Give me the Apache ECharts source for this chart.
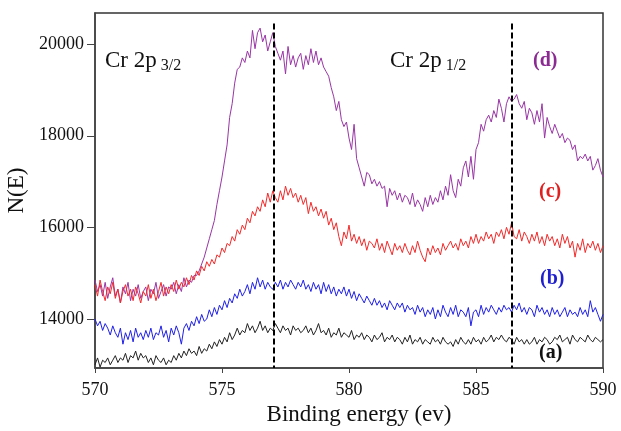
<!DOCTYPE html>
<html>
<head>
<meta charset="utf-8">
<script src="https://cdn.jsdelivr.net/npm/echarts@6/dist/echarts.min.js"></script>
<style>
  html, body { margin: 0; padding: 0; background: #fff; }
  #chart { width: 621px; height: 431px; }
</style>
</head>
<body>
<div id="chart"></div>
<script>
// binding energy grid, 570 -> 590 eV every 0.1 eV
const energyStart = 570;
const energyStep = 0.1;

// (a) black
const spectrumA = [
  13000, 13150, 12950, 13100, 13050, 13150, 13000, 13100, 13200, 13050,
  13150, 13100, 13250, 13050, 13200, 13150, 13300, 13100, 13250, 13150,
  13200, 13050, 13150, 13000, 13200, 13100, 13050, 13150, 13000, 13100,
  13050, 13200, 13100, 13250, 13150, 13300, 13200, 13350, 13250, 13300,
  13200, 13400, 13250, 13350, 13300, 13450, 13350, 13500, 13400, 13550,
  13450, 13600, 13500, 13700, 13550, 13650, 13800, 13650, 13750, 13700,
  13900, 13750, 13850, 13700, 13800, 13950, 13750, 13850, 13700, 13800,
  13750, 13900, 13800, 13700, 13850, 13750, 13800, 13650, 13850, 13750,
  13800, 13700, 13750, 13850, 13700, 13800, 13650, 13750, 13900, 13700,
  13750, 13650, 13800, 13600, 13700, 13650, 13800, 13600, 13700, 13650,
  13600, 13750, 13550, 13650, 13600, 13700, 13550, 13650, 13600, 13500,
  13650, 13550, 13600, 13700, 13500, 13600, 13550, 13650, 13500, 13600,
  13550, 13450, 13600, 13500, 13650, 13450, 13550, 13500, 13600, 13450,
  13550, 13500, 13450, 13600, 13500, 13550, 13450, 13600, 13500, 13450,
  13500, 13400, 13550, 13450, 13600, 13500, 13450, 13550, 13450, 13600,
  13500, 13550, 13450, 13600, 13500, 13550, 13650, 13500, 13600, 13550,
  13650, 13550, 13500, 13600, 13550, 13450, 13600, 13500, 13550, 13450,
  13550, 13450, 13500, 13600, 13450, 13550, 13500, 13600, 13550, 13450,
  13500, 13600, 13550, 13650, 13500, 13550, 13600, 13450, 13650, 13550,
  13500, 13600, 13550, 13500, 13650, 13550, 13500, 13600, 13550, 13500,
  13550
];

// (b) blue
const spectrumB = [
  14000, 13850, 13950, 13750, 13900, 13800, 13650, 13850, 13700, 13600,
  13800, 13450, 13700, 13550, 13750, 13500, 13800, 13600, 13700, 13550,
  13750, 13600, 13800, 13550, 13700, 13650, 13850, 13600, 13750, 13500,
  13800, 13650, 13850, 13700, 13450, 13800, 13900, 13750, 13950, 13850,
  14050, 13900, 14100, 13950, 14000, 14200, 14050, 14250, 14100, 14300,
  14200, 14400, 14250, 14450, 14350, 14550, 14450, 14650, 14500, 14600,
  14750, 14550, 14800, 14650, 14900, 14700, 14850, 14650, 14800, 14700,
  14650, 14800, 14700, 14850, 14650, 14800, 14700, 14850, 14750, 14650,
  14800, 14700, 14850, 14650, 14750, 14600, 14800, 14650, 14750, 14550,
  14800, 14600, 14750, 14550, 14700, 14500, 14650, 14550, 14700, 14500,
  14650, 14450, 14600, 14400, 14550, 14450, 14350, 14500, 14400, 14300,
  14450, 14300, 14400, 14250, 14350, 14200, 14400, 14300, 14200, 14350,
  14250, 14350, 14150, 14300, 14200, 14250, 14100, 14300, 14150, 14250,
  14050, 14200, 14100, 14250, 14000, 14200, 14050, 14300, 14150, 14050,
  14250, 14100, 14300, 14050, 14200, 14150, 14050, 14250, 13850, 14150,
  14200, 14050, 14300, 14100, 14250, 14150, 14300, 14200, 14100, 14250,
  14150, 14300, 14200, 14250, 14150, 14300, 14200, 14350, 14150, 14250,
  14100, 14250, 14200, 14050, 14300, 14150, 14250, 14100, 14200, 14050,
  14250, 14100, 14200, 14050, 14150, 14250, 14050, 14200, 14100, 14150,
  14050, 14250, 14100, 14200, 14050, 14400, 14150, 14250, 14100, 13950,
  14100
];

// (c) red
const spectrumC = [
  14750, 14500, 14850, 14600, 14400, 14700, 14550, 14800, 14450, 14650,
  14350, 14600, 14750, 14500, 14650, 14400, 14700, 14550, 14350, 14600,
  14500, 14750, 14450, 14650, 14400, 14600, 14800, 14500, 14700, 14550,
  14750, 14600, 14850, 14650, 14800, 14700, 14900, 14750, 14950, 14850,
  15050, 14950, 15150, 15050, 15250, 15150, 15300, 15200, 15400, 15350,
  15550, 15450, 15650, 15600, 15800, 15700, 15950, 15850, 16050, 15950,
  16200, 16100, 16350, 16250, 16450, 16350, 16600, 16450, 16750, 16550,
  16800, 16650, 16550, 16800, 16600, 16900, 16700, 16850, 16650, 16750,
  16550, 16700, 16500, 16650, 16300, 16550, 16350, 16450, 16250, 16400,
  16200, 16350, 16050, 16200, 15950, 16100, 15800, 15600, 15900, 15750,
  16050, 15700, 15850, 15650, 15800, 15600, 15750, 15500, 15700, 15650,
  15550, 15750, 15500, 15650, 15450, 15700, 15550, 15400, 15650, 15500,
  15600, 15450, 15650, 15500, 15400, 15600, 15450, 15700, 15500, 15350,
  15250, 15550, 15400, 15600, 15450, 15550, 15400, 15650, 15500, 15600,
  15700, 15550, 15650, 15500, 15750, 15600, 15700, 15550, 15800, 15650,
  15850, 15650, 15800, 15700, 15900, 15750, 15850, 15650, 15900, 15800,
  15950, 15750, 16000, 15850, 16100, 15800, 15750, 15950, 15700, 15900,
  15800, 15650, 15850, 15700, 15900, 15650, 15800, 15600, 15850, 15700,
  15800, 15600, 15750, 15550, 15850, 15650, 15800, 15550, 15700, 15350,
  15650, 15500, 15750, 15450, 15650, 15550, 15700, 15500, 15650, 15450,
  15600
];

// (d) purple
const spectrumD = [
  14850, 14600, 14750, 14500, 14800, 14450, 14700, 14900, 14500, 14650,
  14350, 14700, 14550, 14800, 14400, 14650, 14500, 14750, 14450, 14600,
  14700, 14400, 14650, 14550, 14800, 14450, 14600, 14750, 14500, 14700,
  14650, 14800, 14550, 14750, 14600, 14900, 14700, 14850, 14800, 14950,
  14950, 15050, 15200, 15350, 15550, 15750, 15950, 16150, 16500, 16800,
  17100, 17450, 17800, 18400, 18700, 19150, 19450, 19500, 19700, 19600,
  19850, 19700, 20300, 19900, 20250, 20350, 20050, 20200, 19850, 20050,
  20250, 19950, 19800, 19650, 19850, 19350, 19950, 19550, 19750, 19500,
  19700, 19800, 19450, 19750, 19550, 19900, 19600, 19850, 19550, 19700,
  19500, 19400, 19300, 19050, 18850, 18550, 18750, 18350, 18200, 18300,
  17950, 17700, 18250, 17500, 17300, 17100, 16900, 17200, 17150, 16950,
  17050, 16900, 17000, 16850, 16900, 16450, 16850, 16700, 16800, 16600,
  16750, 16550, 16700, 16650, 16500, 16750, 16450, 16600, 16500, 16350,
  16650, 16450, 16700, 16500, 16650, 16550, 16800, 16600, 16900, 16700,
  17150, 16800, 16650, 17050, 16900, 17300, 17450, 17100, 17550, 17050,
  17700, 17850, 18250, 18100, 18350, 18450, 18300, 18550, 18400, 18800,
  18600, 18300, 18700, 18850, 18750, 18800, 18900, 18700, 18600, 18750,
  18350, 18600, 18500, 18250, 18550, 18300, 18700, 17950, 18400, 18200,
  18050, 18250, 18100, 17950, 18050, 17850, 17950, 17900, 17700, 17800,
  17450, 17550, 17500, 17600, 17450, 17550, 17250, 17350, 17500, 17250,
  17100
];

const yTicks = [14000, 16000, 18000, 20000];
const peakLines = [577.05, 586.4];

function toPairs(values) {
  return values.map((v, i) => [+(energyStart + i * energyStep).toFixed(1), v]);
}

const serif = "'Liberation Serif', 'DejaVu Serif', serif";
const chart = echarts.init(document.getElementById('chart'));

chart.setOption({
  animation: false,
  backgroundColor: '#fff',
  grid: {
    left: 95, right: 18, top: 13, bottom: 63,
    outerBoundsMode: 'none', containLabel: false,
    show: true, borderColor: '#333', borderWidth: 1.5
  },
  xAxis: {
    type: 'value', min: 570, max: 590, interval: 5,
    name: 'Binding energy (ev)', nameLocation: 'middle', nameGap: 34,
    nameTextStyle: { fontFamily: serif, fontSize: 23, color: '#111', padding: [0, 0, 0, 20] },
    axisLine: { lineStyle: { color: '#444', width: 1.5 } },
    axisTick: { inside: false, length: 5, lineStyle: { color: '#444' } },
    axisLabel: { fontFamily: serif, fontSize: 18, color: '#111', margin: 13 },
    splitLine: { show: false }
  },
  yAxis: {
    type: 'value', min: 12930, max: 20680,
    name: 'N(E)', nameLocation: 'middle', nameGap: 62, nameRotate: 90,
    nameTextStyle: { fontFamily: serif, fontSize: 23, color: '#111' },
    axisLine: { show: true, lineStyle: { color: '#444', width: 1.5 } },
    axisTick: { show: true, length: 8, customValues: yTicks, lineStyle: { color: '#444' } },
    axisLabel: { fontFamily: serif, fontSize: 18, color: '#111', margin: 11,
      customValues: yTicks, formatter: v => String(v) },
    splitLine: { show: false }
  },
  series: [
    { name: 'd', type: 'line', data: toPairs(spectrumD), showSymbol: false,
      lineStyle: { color: '#9a35a6', width: 1 } },
    { name: 'c', type: 'line', data: toPairs(spectrumC), showSymbol: false,
      lineStyle: { color: '#f22a2a', width: 1 } },
    { name: 'b', type: 'line', data: toPairs(spectrumB), showSymbol: false,
      lineStyle: { color: '#1f1fe8', width: 1 } },
    { name: 'a', type: 'line', data: toPairs(spectrumA), showSymbol: false,
      lineStyle: { color: '#222', width: 1 },
      markLine: {
        silent: true, symbol: ['none', 'none'], label: { show: false },
        lineStyle: { color: '#000', type: [6, 3], width: 2 },
        data: peakLines.map(x => [{ coord: [x, 20450] }, { coord: [x, 12930] }])
      } }
  ],
  graphic: [
    { type: 'text', left: 105, top: 49, style: {
      text: '{m|Cr 2p}{s| 3/2}', rich: {
        m: { fontFamily: serif, fontSize: 23, fill: '#111' },
        s: { fontFamily: serif, fontSize: 16, fill: '#111', padding: [10, 0, 0, 0] }
      } } },
    { type: 'text', left: 390, top: 49, style: {
      text: '{m|Cr 2p}{s| 1/2}', rich: {
        m: { fontFamily: serif, fontSize: 23, fill: '#111' },
        s: { fontFamily: serif, fontSize: 16, fill: '#111', padding: [10, 0, 0, 0] }
      } } },
    { type: 'text', left: 533, top: 51, style: { text: '(d)', font: 'bold 20px ' + serif, fill: '#8a2a92' } },
    { type: 'text', left: 539, top: 182, style: { text: '(c)', font: 'bold 20px ' + serif, fill: '#e01f1f' } },
    { type: 'text', left: 540, top: 269, style: { text: '(b)', font: 'bold 20px ' + serif, fill: '#1f1fd0' } },
    { type: 'text', left: 539, top: 343, style: { text: '(a)', font: 'bold 20px ' + serif, fill: '#111' } }
  ]
});
</script>
</body>
</html>
